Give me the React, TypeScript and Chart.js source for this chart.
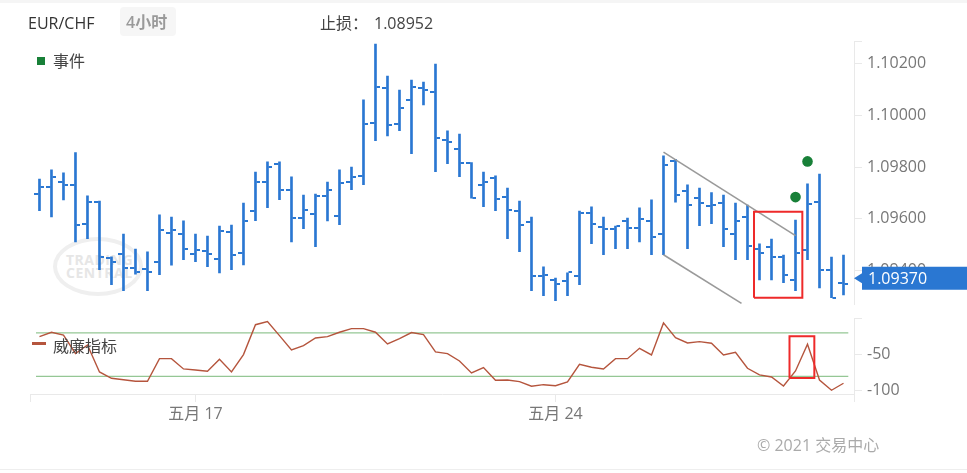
import React, { useEffect, useRef } from 'react';
import { Chart, registerables } from 'chart.js';

Chart.register(...registerables);

// ---------- data ----------
const OPEN = [1.09695, 1.09722, 1.09741, 1.09732, 1.0958, 1.09665, 1.09448, 1.09464, 1.09411, 1.09407, 1.09434, 1.09546, 1.09542, 1.09465, 1.09474, 1.09444, 1.0955, 1.09467, 1.09629, 1.09741, 1.09813, 1.09711, 1.09602, 1.09617, 1.09689, 1.09612, 1.09741, 1.09764, 1.09972, 1.10107, 1.09968, 1.10061, 1.10107, 1.10089, 1.09905, 1.09871, 1.09817, 1.09732, 1.09758, 1.09684, 1.09631, 1.09586, 1.09378, 1.09362, 1.09358, 1.09378, 1.09621, 1.09569, 1.09559, 1.09593, 1.09566, 1.09592, 1.09542, 1.09822, 1.09706, 1.09682, 1.09651, 1.09662, 1.09541, 1.09606, 1.09482, 1.09491, 1.09453, 1.09364, 1.09479, 1.09665, 1.09402, 1.09353];
const HIGH = [1.09754, 1.09789, 1.09778, 1.09856, 1.09689, 1.09669, 1.09453, 1.09541, 1.09483, 1.09472, 1.09615, 1.09607, 1.09592, 1.09541, 1.09533, 1.09572, 1.09576, 1.09661, 1.09781, 1.0982, 1.0982, 1.09762, 1.09692, 1.09696, 1.09742, 1.09789, 1.098, 1.1006, 1.10276, 1.10152, 1.10098, 1.10137, 1.10129, 1.10199, 1.0994, 1.09928, 1.09817, 1.09781, 1.09766, 1.09719, 1.09669, 1.09607, 1.09414, 1.09371, 1.09391, 1.0963, 1.09646, 1.09607, 1.09572, 1.09603, 1.09642, 1.09673, 1.09844, 1.0983, 1.09731, 1.09719, 1.09701, 1.09692, 1.09661, 1.09653, 1.09503, 1.09522, 1.0946, 1.09595, 1.09735, 1.09773, 1.09452, 1.0946];
const LOW = [1.09631, 1.09607, 1.09673, 1.09511, 1.09523, 1.09403, 1.09345, 1.09322, 1.09386, 1.09322, 1.09384, 1.09421, 1.09442, 1.09434, 1.09415, 1.09391, 1.09403, 1.09422, 1.09593, 1.09643, 1.09674, 1.09511, 1.09562, 1.09492, 1.09592, 1.09577, 1.09713, 1.09732, 1.09902, 1.09921, 1.09941, 1.09852, 1.10041, 1.09782, 1.09813, 1.09763, 1.0968, 1.09647, 1.09631, 1.09523, 1.09473, 1.09322, 1.09303, 1.09283, 1.09303, 1.09345, 1.09504, 1.09461, 1.09484, 1.09484, 1.09511, 1.09461, 1.09461, 1.09664, 1.09484, 1.09573, 1.09581, 1.09492, 1.09442, 1.09442, 1.09364, 1.09364, 1.09353, 1.09322, 1.09442, 1.09333, 1.09295, 1.09306];
const CLOSE = [1.09722, 1.09761, 1.09732, 1.09576, 1.09665, 1.09451, 1.09433, 1.0941, 1.09393, 1.09393, 1.09558, 1.09558, 1.09483, 1.09478, 1.09465, 1.09554, 1.09459, 1.09593, 1.09741, 1.09802, 1.0971, 1.09604, 1.09634, 1.09687, 1.0971, 1.09739, 1.09761, 1.09966, 1.10109, 1.09962, 1.1003, 1.10109, 1.10098, 1.09914, 1.09896, 1.09815, 1.0968, 1.09741, 1.09678, 1.09634, 1.09575, 1.09378, 1.09384, 1.09347, 1.09393, 1.09624, 1.09581, 1.09559, 1.09573, 1.09566, 1.09598, 1.09528, 1.09809, 1.09691, 1.09652, 1.09662, 1.09652, 1.09559, 1.09593, 1.09495, 1.09467, 1.09452, 1.09383, 1.09469, 1.09658, 1.09402, 1.09295, 1.09349];
const WILLIAMS = [-25.1, -19.0, -23.1, -48.4, -36.6, -74.0, -82.7, -84.7, -86.9, -86.9, -55.6, -55.6, -69.8, -71.2, -73.0, -56.4, -74.0, -50.0, -8.6, -4.3, -23.7, -43.5, -37.6, -26.9, -25.1, -19.0, -14.0, -14.0, -19.0, -35.2, -27.9, -19.5, -22.3, -46.3, -48.6, -58.8, -75.4, -68.0, -85.5, -85.1, -87.4, -93.8, -91.6, -93.0, -87.8, -63.3, -67.5, -69.8, -55.6, -55.6, -41.2, -50.4, -6.1, -26.5, -33.8, -32.0, -34.2, -50.4, -46.7, -68.9, -78.1, -80.9, -93.4, -72.6, -35.6, -85.1, -99.3, -89.6];

const DATE_TICKS = [13, 43];
const DATE_LABELS = ['五月 17', '五月 24'];
const PRICE_TICKS = [1.094, 1.096, 1.098, 1.1, 1.102];
const WR_TICKS = [0, -50, -100];
const WR_LEVELS = [-20, -80];
const WR_LEVEL_SPAN = [-0.29, 67.4];

const X_MIN = -0.79;
const X_MAX = 67.875;
const PRICE_MIN = 1.092677;
const PRICE_MAX = 1.102878;
const WR_MIN = -104.5;
const WR_MAX = 0;

const LAST_PRICE = 1.0937;
const STOP_LOSS = '1.08952';

const EVENT_X = [63, 64];
const EVENT_Y = [1.09684, 1.09822];
const CHANNEL_UPPER_X = [52, 63];
const CHANNEL_UPPER_Y = [1.09858, 1.09535];
const CHANNEL_LOWER_X = [52, 58.5];
const CHANNEL_LOWER_Y = [1.09461, 1.09273];
const PRICE_BOX_X = [59.54, 63.57];
const PRICE_BOX_Y = [1.09295, 1.09627];
const WR_BOX_X = [62.5, 64.57];
const WR_BOX_Y = [-82.3, -24.5];

// ---------- style ----------
const BLUE = '#2a77d2';
const GREEN = '#188038';
const WR_COLOR = '#b5553d';
const LEVEL_COLOR = '#95c795';
const RED = '#ee2a2a';
const AXIS = '#e9e9e9';
const TICK_TEXT = '#777777';
const FONT = "'Open Sans', 'Noto Sans CJK SC', sans-serif";

function boxPoints(xs: number[], ys: number[]) {
  return [
    { x: xs[0], y: ys[0] },
    { x: xs[1], y: ys[0] },
    { x: xs[1], y: ys[1] },
    { x: xs[0], y: ys[1] },
    { x: xs[0], y: ys[0] },
  ];
}

function tickImage(side: 'open' | 'close') {
  const c = document.createElement('canvas');
  c.width = 10;
  c.height = 2;
  const g = c.getContext('2d')!;
  g.fillStyle = BLUE;
  if (side === 'open') g.fillRect(0, 0, 4, 2);
  else g.fillRect(6, 0, 4, 2);
  return c;
}

export default function App() {
  const priceRef = useRef<HTMLCanvasElement>(null);
  const wrRef = useRef<HTMLCanvasElement>(null);

  useEffect(() => {
    document.body.style.margin = '0';
    Chart.defaults.font.family = FONT;

    const openImg = tickImage('open');
    const closeImg = tickImage('close');

    const priceLabelPlugin = {
      id: 'priceLabel',
      afterDraw(chart: any) {
        const ctx = chart.ctx;
        const y = chart.scales.y.getPixelForValue(LAST_PRICE);
        const left = chart.chartArea.right;
        ctx.save();
        ctx.fillStyle = BLUE;
        ctx.beginPath();
        ctx.moveTo(left, y);
        ctx.lineTo(left + 8, y - 5);
        ctx.lineTo(left + 8, y - 11.5);
        ctx.lineTo(chart.width, y - 11.5);
        ctx.lineTo(chart.width, y + 11.5);
        ctx.lineTo(left + 8, y + 11.5);
        ctx.lineTo(left + 8, y + 5);
        ctx.closePath();
        ctx.fill();
        ctx.fillStyle = '#ffffff';
        ctx.font = `16px ${FONT}`;
        ctx.textBaseline = 'middle';
        ctx.textAlign = 'left';
        ctx.fillText(LAST_PRICE.toFixed(5), left + 14, y + 1);
        ctx.restore();
      },
    };

    const priceChart = new Chart(priceRef.current!, {
      type: 'bar',
      data: {
        datasets: [
          {
            type: 'line',
            data: boxPoints(PRICE_BOX_X, PRICE_BOX_Y),
            borderColor: RED,
            borderWidth: 2,
            pointRadius: 0,
          } as any,
          {
            type: 'scatter',
            data: EVENT_X.map((x, i) => ({ x, y: EVENT_Y[i] })),
            backgroundColor: GREEN,
            borderWidth: 0,
            pointRadius: 5.3,
          },
          {
            type: 'line',
            data: CHANNEL_UPPER_X.map((x, i) => ({ x, y: CHANNEL_UPPER_Y[i] })),
            borderColor: '#9a9a9a',
            borderWidth: 1.6,
            pointRadius: 0,
          },
          {
            type: 'line',
            data: CHANNEL_LOWER_X.map((x, i) => ({ x, y: CHANNEL_LOWER_Y[i] })),
            borderColor: '#9a9a9a',
            borderWidth: 1.6,
            pointRadius: 0,
          },
          {
            type: 'scatter',
            data: OPEN.map((v, i) => ({ x: i, y: v })),
            pointStyle: openImg,
            pointRadius: 3,
          } as any,
          {
            type: 'scatter',
            data: CLOSE.map((v, i) => ({ x: i, y: v })),
            pointStyle: closeImg,
            pointRadius: 3,
          } as any,
          {
            type: 'bar',
            data: LOW.map((v, i) => ({ x: i, y: [v, HIGH[i]] })),
            backgroundColor: BLUE,
            borderWidth: 0,
            barThickness: 2,
          } as any,
        ],
      },
      options: {
        animation: false,
        responsive: false,
        devicePixelRatio: 1,
        events: [],
        layout: { padding: { left: 30, top: 41, right: 0, bottom: 25.3 } },
        plugins: { legend: { display: false }, tooltip: { enabled: false } },
        scales: {
          x: {
            type: 'linear',
            min: X_MIN,
            max: X_MAX,
            offset: false,
            display: false,
            grid: { offset: false },
          },
          y: {
            type: 'linear',
            position: 'right',
            min: PRICE_MIN,
            max: PRICE_MAX,
            afterFit(s: any) {
              s.width = 113;
            },
            afterBuildTicks(s: any) {
              s.ticks = [...PRICE_TICKS, PRICE_MAX].map((v) => ({ value: v }));
            },
            ticks: {
              callback: (v: any) => (v === PRICE_MAX ? '' : Number(v).toFixed(5)),
              color: TICK_TEXT,
              font: { size: 16 },
              padding: 5,
            },
            grid: { drawOnChartArea: false, drawTicks: true, tickLength: 8, color: AXIS },
            border: { display: true, color: AXIS },
          },
        },
      } as any,
      plugins: [priceLabelPlugin],
    });

    const wrChart = new Chart(wrRef.current!, {
      type: 'line',
      data: {
        datasets: [
          {
            data: boxPoints(WR_BOX_X, WR_BOX_Y),
            borderColor: RED,
            borderWidth: 2,
            pointRadius: 0,
          },
          {
            data: WILLIAMS.map((v, i) => ({ x: i, y: v })),
            borderColor: WR_COLOR,
            borderWidth: 1.4,
            pointRadius: 0,
            tension: 0,
          },
          ...WR_LEVELS.map((lvl) => ({
            data: WR_LEVEL_SPAN.map((x) => ({ x, y: lvl })),
            borderColor: LEVEL_COLOR,
            borderWidth: 1.3,
            pointRadius: 0,
          })),
        ],
      },
      options: {
        animation: false,
        responsive: false,
        devicePixelRatio: 1,
        events: [],
        layout: { padding: { left: 30, top: 18.5, right: 0, bottom: 39 } },
        plugins: { legend: { display: false }, tooltip: { enabled: false } },
        scales: {
          x: {
            type: 'linear',
            min: X_MIN,
            max: X_MAX,
            afterFit(s: any) {
              s.height = 40;
            },
            afterBuildTicks(s: any) {
              s.ticks = [X_MIN, ...DATE_TICKS, X_MAX].map((v) => ({ value: v }));
            },
            ticks: {
              callback: (v: any) => {
                const k = DATE_TICKS.indexOf(Number(v));
                return k >= 0 ? DATE_LABELS[k] : '';
              },
              color: TICK_TEXT,
              font: { size: 16 },
              maxRotation: 0,
              autoSkip: false,
              padding: 3,
            },
            grid: { drawOnChartArea: false, drawTicks: true, tickLength: 8, color: AXIS },
            border: { display: true, color: AXIS },
          },
          y: {
            type: 'linear',
            position: 'right',
            min: WR_MIN,
            max: WR_MAX,
            afterFit(s: any) {
              s.width = 113;
            },
            afterBuildTicks(s: any) {
              s.ticks = WR_TICKS.map((v) => ({ value: v }));
            },
            ticks: {
              callback: (v: any) => (Number(v) === 0 ? '' : String(v)),
              color: TICK_TEXT,
              font: { size: 16 },
              padding: 5,
            },
            grid: { drawOnChartArea: false, drawTicks: true, tickLength: 8, color: AXIS },
            border: { display: true, color: AXIS },
          },
        },
      } as any,
    });

    return () => {
      priceChart.destroy();
      wrChart.destroy();
    };
  }, []);

  const text = (extra: React.CSSProperties): React.CSSProperties => ({
    position: 'absolute',
    fontFamily: FONT,
    fontSize: 16,
    lineHeight: '20px',
    whiteSpace: 'nowrap',
    ...extra,
  });

  return (
    <div
      style={{
        position: 'fixed',
        left: 0,
        top: 0,
        width: 967,
        height: 473,
        background: '#ffffff',
        overflow: 'hidden',
        fontFamily: FONT,
      }}
    >
      <div style={{ position: 'absolute', left: 0, top: 0, width: 967, height: 3, background: '#f5f5f5' }} />
      <div style={{ position: 'absolute', left: 0, top: 469, width: 967, height: 1, background: '#eeeeee' }} />

      {/* watermark */}
      <div
        style={{
          position: 'absolute',
          left: 53,
          top: 237,
          width: 82,
          height: 51,
          border: '4px solid #efefef',
          borderRadius: '50%',
        }}
      />
      <div
        style={text({
          left: 66,
          top: 253,
          fontSize: 14,
          lineHeight: '13px',
          fontWeight: 700,
          color: '#e6e6e6',
          letterSpacing: 0.5,
        })}
      >
        TRADING
        <br />
        CENTRAL
      </div>

      <canvas
        ref={priceRef}
        width={967}
        height={330}
        style={{ position: 'absolute', left: 0, top: 0, width: 967, height: 330 }}
      />
      <canvas
        ref={wrRef}
        width={967}
        height={173}
        style={{ position: 'absolute', left: 0, top: 300, width: 967, height: 173 }}
      />

      {/* header */}
      <div style={text({ left: 28, top: 13, color: '#333333' })}>EUR/CHF</div>
      <div
        style={{
          position: 'absolute',
          left: 120,
          top: 7,
          width: 56,
          height: 29,
          background: '#f6f6f6',
          borderRadius: 4,
        }}
      />
      <div style={text({ left: 126, top: 12, color: '#9a9a9a', fontWeight: 600 })}>4小时</div>
      <div style={text({ left: 320, top: 13, color: '#444444' })}>止损：</div>
      <div style={text({ left: 374, top: 13, color: '#444444' })}>{STOP_LOSS}</div>

      {/* legends */}
      <div style={{ position: 'absolute', left: 37, top: 57, width: 8, height: 8, background: GREEN }} />
      <div style={text({ left: 53, top: 51, color: '#444444' })}>事件</div>
      <div style={{ position: 'absolute', left: 32, top: 342, width: 14, height: 3, background: WR_COLOR }} />
      <div style={text({ left: 53, top: 336, color: '#444444' })}>威廉指标</div>

      <div style={text({ left: 757, top: 435, color: '#aaaaaa' })}>© 2021 交易中心</div>
    </div>
  );
}
